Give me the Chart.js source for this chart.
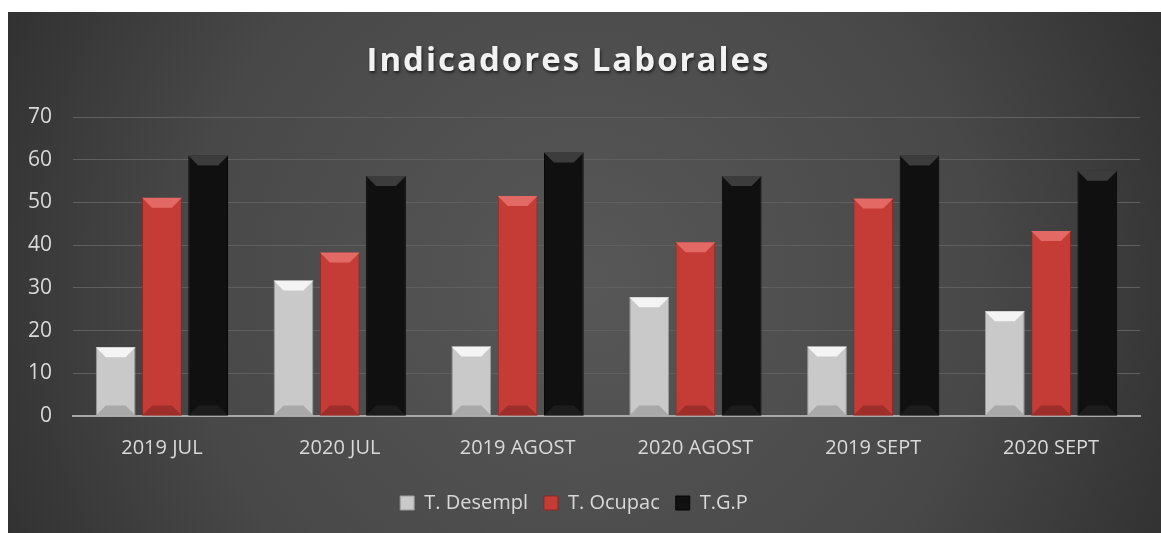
<!DOCTYPE html>
<html>
<head>
<meta charset="utf-8">
<title>Indicadores Laborales</title>
<script src="https://cdn.jsdelivr.net/npm/chart.js@4.4.1/dist/chart.umd.min.js"></script>
<style>
    html, body { margin: 0; padding: 0; background: #ffffff; }
    #wrap { position: absolute; left: 8px; top: 12px; width: 1153px; height: 521px; }
</style>
</head>
<body>
<div id="wrap"><canvas id="laborChart"></canvas></div>
<script>
const categories = ["2019 JUL", "2020 JUL", "2019 AGOST", "2020 AGOST", "2019 SEPT", "2020 SEPT"];
const desempleo = [16.1, 31.7, 16.3, 27.8, 16.3, 24.5];
const ocupacion = [51.1, 38.3, 51.5, 40.7, 50.9, 43.3];
const tgp = [61.0, 56.2, 61.7, 56.2, 61.0, 57.4];
const yTicks = [0, 10, 20, 30, 40, 50, 60, 70];
const chartTitle = "Indicadores Laborales";

document.addEventListener("DOMContentLoaded", function () {
    const ctx = document.getElementById("laborChart").getContext("2d");
    const font = "'Open Sans', sans-serif";

    // dark radial background behind everything
    const backgroundPlugin = {
        id: "bg",
        beforeDraw(chart) {
            const c = chart.ctx;
            const w = chart.width, h = chart.height;
            const g = c.createRadialGradient(w * 0.5, h * 0.52, 10, w * 0.5, h * 0.52, w * 0.62);
            g.addColorStop(0, "#575757");
            g.addColorStop(0.55, "#484848");
            g.addColorStop(1, "#2a2a2a");
            c.save();
            c.fillStyle = g;
            c.fillRect(0, 0, w, h);
            c.restore();
        }
    };

    // spaced title with a soft shadow
    const titlePlugin = {
        id: "spacedTitle",
        afterDraw(chart) {
            const c = chart.ctx;
            c.save();
            c.font = "bold 33px " + font;
            c.letterSpacing = "2px";
            c.textAlign = "center";
            c.textBaseline = "middle";
            c.shadowColor = "rgba(0,0,0,0.6)";
            c.shadowOffsetX = 1;
            c.shadowOffsetY = 2;
            c.shadowBlur = 3;
            c.fillStyle = "#f2f2f2";
            c.fillText(chartTitle, chart.width / 2 - 16, 50);
            c.restore();
        }
    };

    // bevel look on top and bottom of each bar
    const bevelPlugin = {
        id: "bevel",
        afterDatasetsDraw(chart) {
            const c = chart.ctx;
            const tops = ["#f4f4f4", "#e36a64", "#3c3c3c"];
            const bottoms = ["#a9a9a9", "#9e2e2a", "#1c1c1c"];
            chart.data.datasets.forEach((ds, i) => {
                chart.getDatasetMeta(i).data.forEach(bar => {
                    const half = bar.width / 2;
                    const l = bar.x - half, r = bar.x + half;
                    const t = bar.y, b = bar.base;
                    const d = 10;
                    c.save();
                    c.fillStyle = tops[i];
                    c.beginPath();
                    c.moveTo(l, t); c.lineTo(r, t);
                    c.lineTo(r - d, t + d); c.lineTo(l + d, t + d);
                    c.closePath(); c.fill();
                    c.fillStyle = bottoms[i];
                    c.beginPath();
                    c.moveTo(l, b); c.lineTo(r, b);
                    c.lineTo(r - d, b - d); c.lineTo(l + d, b - d);
                    c.closePath(); c.fill();
                    c.restore();
                });
            });
        }
    };

    new Chart(ctx, {
        type: "bar",
        data: {
            labels: categories,
            datasets: [
                { label: "T. Desempl", data: desempleo, backgroundColor: "#c9c9c9", borderColor: "#9a9a9a", borderWidth: 1 },
                { label: "T. Ocupac", data: ocupacion, backgroundColor: "#c53c37", borderColor: "#8e2824", borderWidth: 1 },
                { label: "T.G.P", data: tgp, backgroundColor: "#101010", borderColor: "#050505", borderWidth: 1 }
            ]
        },
        options: {
            responsive: true,
            maintainAspectRatio: false,
            animation: false,
            categoryPercentage: 0.78,
            barPercentage: 0.86,
            layout: { padding: { top: 105, right: 21, left: 0, bottom: 10 } },
            plugins: {
                title: { display: false },
                tooltip: { enabled: false },
                legend: {
                    position: "bottom",
                    labels: {
                        color: "#d9d9d9",
                        font: { family: font, size: 20 },
                        boxWidth: 14,
                        boxHeight: 14,
                        padding: 16
                    }
                }
            },
            scales: {
                x: {
                    grid: { display: false },
                    border: { color: "#a8a8a8", width: 2 },
                    ticks: { color: "#d9d9d9", font: { family: font, size: 20 }, padding: 12 },
                    afterFit(scale) { scale.height = 61; }
                },
                y: {
                    min: 0,
                    max: 70,
                    afterBuildTicks(scale) { scale.ticks = yTicks.map(v => ({ value: v })); },
                    grid: { color: "#5f5f5f", lineWidth: 1, drawTicks: false },
                    border: { display: false },
                    ticks: { color: "#d9d9d9", font: { family: font, size: 21 }, padding: 21 },
                    afterFit(scale) { scale.width = 65; }
                }
            }
        },
        plugins: [backgroundPlugin, bevelPlugin, titlePlugin]
    });
});
</script>
</body>
</html>
